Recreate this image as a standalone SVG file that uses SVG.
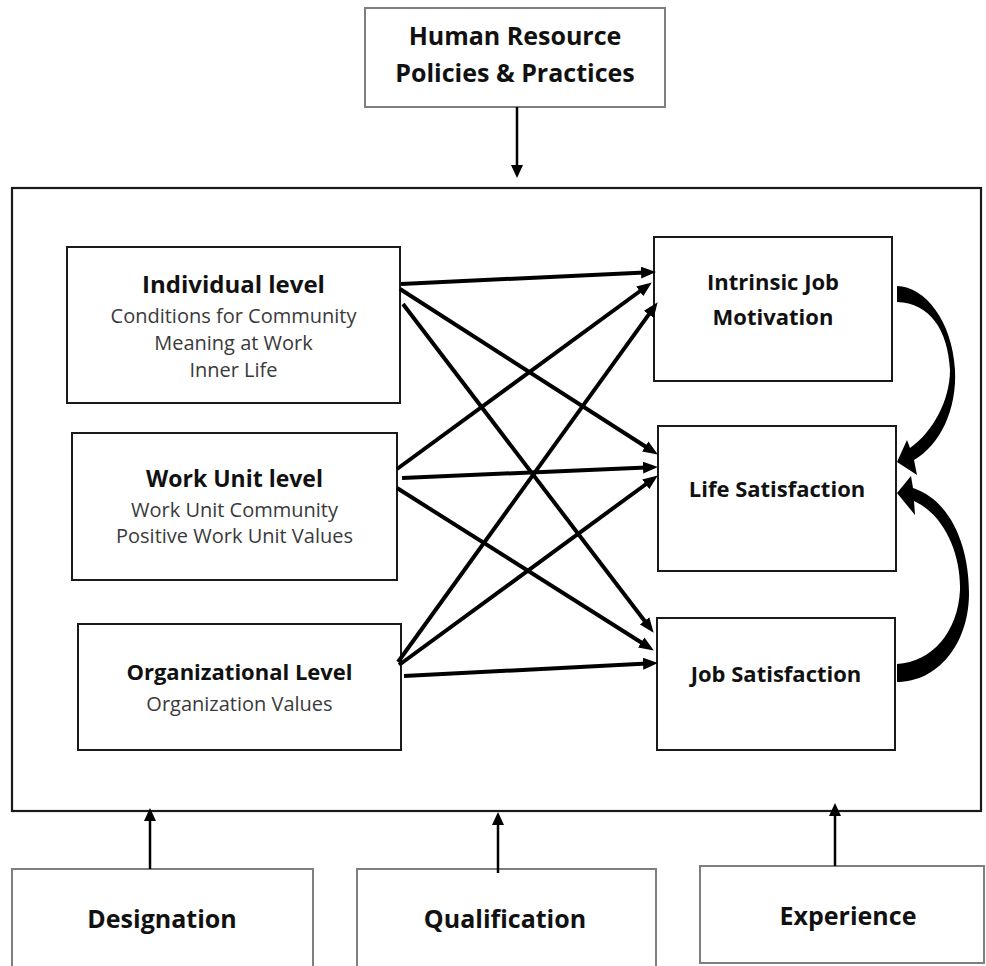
<svg xmlns="http://www.w3.org/2000/svg" width="986" height="966" viewBox="0 0 986 966">
<defs>
<style>
.outer{fill:#fff;stroke:#7f7f7f;stroke-width:2}
.frame{fill:none;stroke:#1a1a1a;stroke-width:2.2}
.box{fill:#fff;stroke:#1a1a1a;stroke-width:2}
.t{font-family:"Open Sans","Noto Sans",sans-serif;font-weight:700;fill:#111;text-anchor:middle}
.s{font-family:"Open Sans","Noto Sans",sans-serif;font-weight:400;fill:#3a3a3a;text-anchor:middle;font-size:20px}
.ln{stroke:#000;stroke-width:4;fill:none;marker-end:url(#ah)}
.vl{stroke:#000;stroke-width:2.5;fill:none;marker-end:url(#av)}
</style>
<marker id="ah" markerUnits="userSpaceOnUse" markerWidth="16" markerHeight="12" refX="9" refY="6" orient="auto">
<path d="M0,0 L15,6 L0,12 z" fill="#000"/>
</marker>
<marker id="av" markerUnits="userSpaceOnUse" markerWidth="14" markerHeight="12" refX="8" refY="6" orient="auto">
<path d="M0,0 L13,6 L0,12 z" fill="#000"/>
</marker>
</defs>
<rect width="986" height="966" fill="#fff"/>

<g id="frame"><rect class="frame" x="12" y="188" width="969" height="623"/></g>

<g id="hr">
<rect class="outer" x="365" y="8" width="300" height="99"/>
<text class="t" x="515" y="45" font-size="25">Human Resource</text>
<text class="t" x="515" y="82" font-size="25">Policies &amp; Practices</text>
</g>

<g id="individual">
<rect class="box" x="67" y="247" width="333" height="156"/>
<text class="t" x="233.5" y="293" font-size="24">Individual level</text>
<text class="s" x="233.5" y="323">Conditions for Community</text>
<text class="s" x="233.5" y="350">Meaning at Work</text>
<text class="s" x="233.5" y="377">Inner Life</text>
</g>

<g id="workunit">
<rect class="box" x="72" y="433" width="325" height="147"/>
<text class="t" x="234.5" y="487" font-size="23">Work Unit level</text>
<text class="s" x="234.5" y="517">Work Unit Community</text>
<text class="s" x="234.5" y="543">Positive Work Unit Values</text>
</g>

<g id="organizational">
<rect class="box" x="78" y="624" width="323" height="126"/>
<text class="t" x="239.5" y="680" font-size="22">Organizational Level</text>
<text class="s" x="239.5" y="711">Organization Values</text>
</g>

<g id="intrinsic">
<rect class="box" x="654" y="237" width="238" height="144"/>
<text class="t" x="773" y="290" font-size="22">Intrinsic Job</text>
<text class="t" x="773" y="325" font-size="22">Motivation</text>
</g>

<g id="life">
<rect class="box" x="658" y="426" width="238" height="145"/>
<text class="t" x="777" y="497" font-size="22">Life Satisfaction</text>
</g>

<g id="job">
<rect class="box" x="657" y="618" width="238" height="132"/>
<text class="t" x="776" y="682" font-size="22">Job Satisfaction</text>
</g>

<g id="designation">
<rect class="outer" x="12" y="869" width="301" height="110"/>
<text class="t" x="162" y="928" font-size="25">Designation</text>
</g>

<g id="qualification">
<rect class="outer" x="357" y="869" width="299" height="110"/>
<text class="t" x="505" y="928" font-size="25">Qualification</text>
</g>

<g id="experience">
<rect class="outer" x="700" y="866" width="284" height="97"/>
<text class="t" x="848" y="925" font-size="25">Experience</text>
</g>

<g id="connectors">
<line class="vl" x1="517" y1="107" x2="517" y2="173"/>
<line class="vl" x1="150" y1="869" x2="150" y2="813"/>
<line class="vl" x1="498" y1="873" x2="498" y2="817"/>
<line class="vl" x1="835" y1="866" x2="835" y2="808"/>

<line class="ln" x1="401" y1="284" x2="650" y2="272.2"/>
<line class="ln" x1="400" y1="289" x2="652.8" y2="451.3"/>
<line class="ln" x1="403" y1="304" x2="650" y2="628"/>
<line class="ln" x1="397" y1="469" x2="647" y2="286"/>
<line class="ln" x1="402" y1="478" x2="652" y2="467.2"/>
<line class="ln" x1="397" y1="488" x2="648.8" y2="647.3"/>
<line class="ln" x1="398" y1="662" x2="654.1" y2="307.1"/>
<line class="ln" x1="399" y1="665" x2="653" y2="479"/>
<line class="ln" x1="404" y1="676" x2="652" y2="663.3"/>

<path d="M897,286 C925,287 952,320 955,370 C957,410 940,445 914,460 L917,475 L897,462 L907,440 L910,448 C933,432 950,400 950,370 C948,330 930,303 897,302 Z" fill="#000"/>
<path d="M897,664 C932,662 958,632 960,590 C961,555 945,515 914,501 L915,515 L897,493 L911,476 L913,488 C950,500 969,545 969,593 C969,645 937,682 897,682 Z" fill="#000"/>
</g>
</svg>
